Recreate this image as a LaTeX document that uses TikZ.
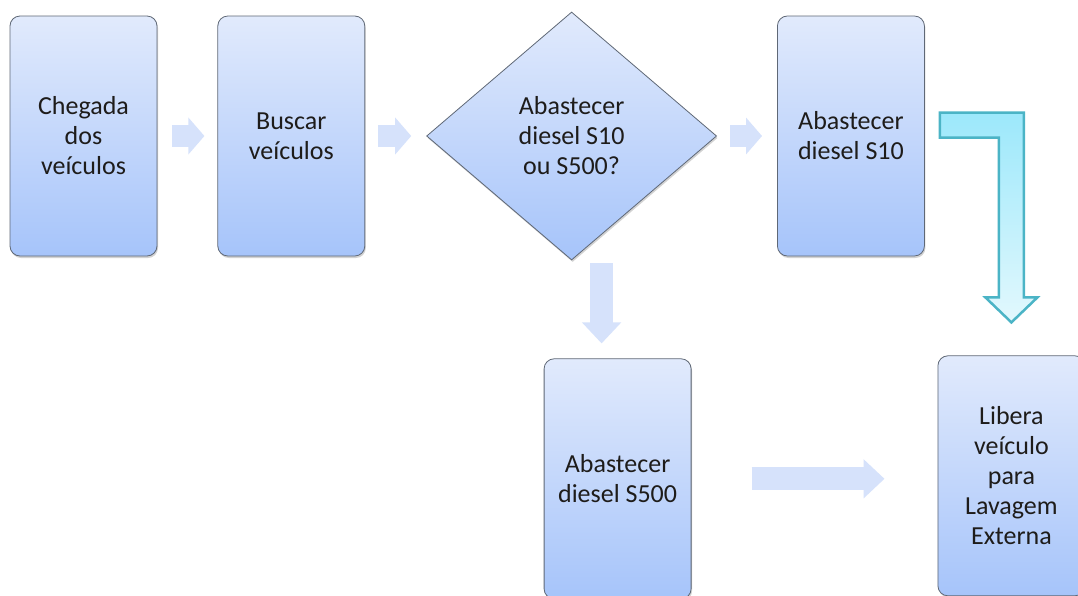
\documentclass[tikz,border=0pt]{standalone}
\usepackage{fontspec}
\setmainfont{Carlito}
\usetikzlibrary{positioning, shapes.geometric, arrows.meta, shadows}

\definecolor{boxtop}{RGB}{225,234,252}
\definecolor{boxbot}{RGB}{166,196,250}
\definecolor{boxline}{RGB}{95,104,118}
\definecolor{flowfill}{RGB}{214,226,251}
\definecolor{benttop}{RGB}{156,232,251}
\definecolor{bentbot}{RGB}{226,248,253}
\definecolor{bentline}{RGB}{75,180,198}
\definecolor{txt}{RGB}{30,28,26}

\begin{document}
\begin{tikzpicture}[
node distance = 0mm and 60pt,% gap between the boxes of the top row
   box/.style = {draw=boxline, thick, rounded corners=10pt,
                 top color=boxtop, bottom color=boxbot,
                 minimum width=147pt, minimum height=240pt, inner sep=0pt,
                 align=center, text=txt, font=\fontsize{26}{30}\selectfont,
                 drop shadow={opacity=0.35, shadow xshift=1pt, shadow yshift=-2pt}},
   ask/.style = {box, diamond, rounded corners=0pt,
                 minimum width=290pt, minimum height=248pt},
  flow/.style = {draw=flowfill, line width=22pt,
                 -{Triangle[width=36pt, length=16pt]}},
bigflow/.style = {draw=flowfill, line width=23pt,
                 -{Triangle[width=38pt, length=21pt]}},
  bent/.style = {draw=bentline, line width=2.5pt, line join=miter,
                 top color=benttop, bottom color=bentbot}
                        ]
\useasboundingbox[fill=white] (0pt,0pt) rectangle (1078pt,-595pt);
% top row
\node (chegada) [box] at (83.5pt,-136pt) {Chegada\\ dos\\ veículos};
\node (buscar)  [box, right=of chegada] {Buscar\\ veículos};
\node (decide)  [ask, right=61pt of buscar] {Abastecer\\ diesel S10\\ ou S500?};
\node (s10)     [box, right=of decide] {Abastecer\\ diesel S10};
% bottom row
\node (s500)    [box, below=98pt of decide.south, xshift=46pt] {Abastecer\\ diesel S500};
\node (libera)  [box, right=246pt of s500, yshift=3pt] {Libera\\ veículo\\ para\\ Lavagem\\ Externa};
% block arrows
\draw [flow, shorten <=15pt, shorten >=13pt] (chegada) -- (buscar);
\draw [flow, shorten <=13pt, shorten >=15pt] (buscar) -- (decide);
\draw [flow, shorten <=13pt, shorten >=15pt] (decide) -- (s10);
\coordinate (dn) at ([xshift=30pt]decide.south);
\draw [bigflow, shorten <=3pt, shorten >=15pt] (dn) -- (dn |- s500.north);
\draw [bigflow, shorten <=60pt, shorten >=53pt] (s500.east) -- (s500.east -| libera.west);
% bent arrow from S10 down to Libera
\coordinate (bs) at ([xshift=15pt, yshift=11pt]s10.east);
\coordinate (bt) at ([yshift=33pt]libera.north);
\coordinate (bc) at (bt |- bs);
\path [bent] ([yshift=12.5pt]bs) -- ([xshift=12.5pt, yshift=12.5pt]bc)
   -- ([xshift=12.5pt, yshift=25pt]bt) -- ([xshift=26pt, yshift=25pt]bt)
   -- (bt) -- ([xshift=-26pt, yshift=25pt]bt) -- ([xshift=-12.5pt, yshift=25pt]bt)
   -- ([xshift=-12.5pt, yshift=-12.5pt]bc) -- ([yshift=-12.5pt]bs) -- cycle;
\end{tikzpicture}
\end{document}
